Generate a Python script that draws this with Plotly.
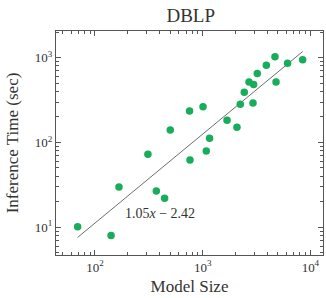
import numpy as np
import plotly.graph_objects as go

# Data (DBLP)
model_size = [69, 141, 167, 310, 371, 443, 500, 755, 762, 1007, 1080, 1158,
              1682, 2080, 2234, 2432, 2691, 2970, 2931, 3213, 3899, 4690,
              4797, 6140, 8472]
inference_time = [10.1, 7.96, 29.8, 72.8, 26.7, 21.9, 140.7, 235, 62, 265, 79.6, 112,
                  183, 151, 282, 391, 516, 485, 292, 653, 818, 1028,
                  516, 863, 946]

# Fit in natural-log space: ln(y) = 1.05 ln(x) - 2.42
fit_slope = 1.05
fit_intercept = -2.42
fit_label = "1.05<i>x</i> − 2.42"

x_tickvals = [100, 1000, 10000]
x_ticktext = ["10<sup>2</sup>", "10<sup>3</sup>", "10<sup>4</sup>"]
y_tickvals = [10, 100, 1000]
y_ticktext = ["10<sup>1</sup>", "10<sup>2</sup>", "10<sup>3</sup>"]

x_minor = [m * 10 ** d for d in range(1, 5) for m in range(2, 10)]
y_minor = [m * 10 ** d for d in range(0, 4) for m in range(2, 10)]

fit_x = np.array([min(model_size), max(model_size)], dtype=float)
fit_y = np.exp(fit_intercept) * fit_x ** fit_slope

FONT = "Liberation Serif"
AX = "#555555"

fig = go.Figure()
fig.add_trace(go.Scatter(x=fit_x, y=fit_y, mode="lines",
                         line=dict(color="#6e6e6e", width=1), showlegend=False,
                         hoverinfo="skip"))
fig.add_trace(go.Scatter(x=model_size, y=inference_time, mode="markers",
                         marker=dict(color="#18ad5b", size=7.5, line=dict(width=0)),
                         showlegend=False))

fig.add_annotation(x=np.log10(402), y=np.log10(14.5), xref="x", yref="y",
                   text=fit_label, showarrow=False,
                   font=dict(family=FONT, size=14, color="#333333"))

axis_common = dict(type="log", showgrid=False, zeroline=False,
                   showline=True, linecolor=AX, linewidth=1, mirror="allticks",
                   ticks="inside", ticklen=5, tickcolor=AX, tickwidth=0.8,
                   tickfont=dict(family=FONT, size=13, color="#333333"),
                   title_font=dict(family=FONT, size=17, color="#333333"))

fig.update_xaxes(**axis_common, range=[1.638, 4.117],
                 tickmode="array", tickvals=x_tickvals, ticktext=x_ticktext,
                 minor=dict(tickmode="array", tickvals=x_minor, ticks="inside",
                            ticklen=3, tickcolor=AX, tickwidth=0.6),
                 title=dict(text="Model Size", standoff=6))
fig.update_yaxes(**axis_common, range=[0.672, 3.316],
                 tickmode="array", tickvals=y_tickvals, ticktext=y_ticktext,
                 minor=dict(tickmode="array", tickvals=y_minor, ticks="inside",
                            ticklen=3, tickcolor=AX, tickwidth=0.6),
                 title=dict(text="Inference Time (sec)", standoff=11))

fig.update_layout(width=326, height=298,
                  margin=dict(l=56, r=3, t=31, b=43),
                  paper_bgcolor="white", plot_bgcolor="white",
                  title=dict(text="DBLP", x=0.585, xanchor="center", y=0.97, yanchor="top",
                             font=dict(family=FONT, size=19, color="#333333")))

fig.write_html("out.html", config={"displayModeBar": False},
               post_script="document.body.style.margin='0';document.body.style.overflow='hidden';")
